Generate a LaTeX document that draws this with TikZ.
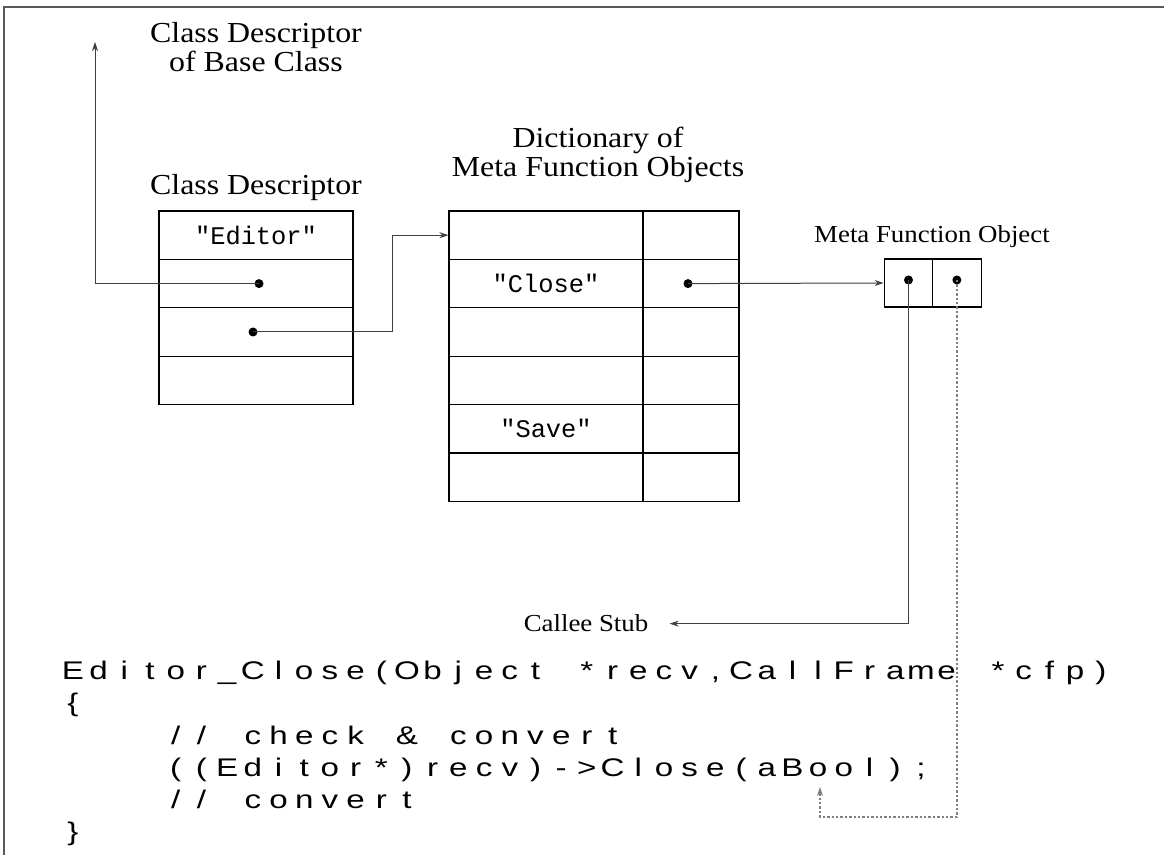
\documentclass[tikz,border=0pt]{standalone}
\usepackage{fontspec}
\setmainfont{Liberation Serif}
\newfontfamily\labelfont[FakeStretch=1.1]{Liberation Serif}
\newfontfamily\strfont{Liberation Mono}
\newfontfamily\codefont[FakeStretch=1.3]{Liberation Sans}
\usetikzlibrary{arrows.meta, positioning}

\newlength\codecell
\setlength\codecell{12.85pt}
\ExplSyntaxOn
\NewDocumentCommand\codeline{m}{\str_map_inline:nn {#1} {\makebox[\codecell]{##1}}}
\ExplSyntaxOff

\tikzstyle{bigtitle} = [font=\labelfont\fontsize{14.5pt}{14.8pt}\selectfont, align=center, inner sep=0pt]
\tikzstyle{smalltitle} = [font=\labelfont\fontsize{12.2pt}{14pt}\selectfont, inner sep=0pt]
\tikzstyle{slot} = [rectangle, draw=black, line width=0.6pt, minimum width=97pt, minimum height=24.2pt, inner sep=0pt, font=\strfont\fontsize{12.7pt}{14pt}\selectfont]
\tikzstyle{valslot} = [slot, minimum width=48pt]
\tikzstyle{ptrslot} = [slot, minimum width=24.25pt, minimum height=24pt]
\tikzstyle{ptrdot} = [circle, fill=black, inner sep=0pt, minimum size=4.5pt]
\tikzstyle{codeln} = [font=\codefont\fontsize{12.75pt}{15pt}\selectfont, anchor=base west, inner sep=0pt]
\tikzstyle{arrow} = [draw=black!75, line width=0.5pt, -{Stealth[length=4.5pt, width=3pt]}]
\tikzstyle{dotarrow} = [arrow, draw=black!50, line width=0.6pt, dash pattern=on 1.2pt off 1pt]

\begin{document}
\begin{tikzpicture}[x=0.5pt, y=-0.5pt, node distance=24.2pt]
\useasboundingbox (0,0) rectangle (1164,855);
\draw [draw=black!65, line width=0.75pt] (4,855) -- (4,7) -- (1164,7);

% class descriptor
\node (basetitle) [bigtitle, anchor=base] at (256,72) {Class Descriptor\\of Base Class};
\node (cdtitle) [bigtitle, anchor=base] at (256,195) {Class Descriptor};
\node (cd1) [slot] at (256,235.2) {"Editor"};
\node (cd2) [slot, below of=cd1] {};
\node (cd3) [slot, below of=cd2] {};
\node (cd4) [slot, below of=cd3] {};

% dictionary
\node (dicttitle) [bigtitle, anchor=base] at (598,177) {Dictionary of\\Meta Function Objects};
\node (key1) [slot] at (546,235.2) {};
\node (key2) [slot, below of=key1] {"Close"};
\node (key3) [slot, below of=key2] {};
\node (key4) [slot, below of=key3] {};
\node (key5) [slot, below of=key4] {"Save"};
\node (key6) [slot, below of=key5] {};
\node (val1) [valslot, node distance=72.5pt, right of=key1] {};
\node (val2) [valslot, node distance=72.5pt, right of=key2] {};
\node (val3) [valslot, node distance=72.5pt, right of=key3] {};
\node (val4) [valslot, node distance=72.5pt, right of=key4] {};
\node (val5) [valslot, node distance=72.5pt, right of=key5] {};
\node (val6) [valslot, node distance=72.5pt, right of=key6] {};

% meta function object
\node (mfotitle) [smalltitle, anchor=base] at (932,243) {Meta Function Object};
\node (mfo1) [ptrslot] at (908.5,283) {};
\node (mfo2) [ptrslot, right of=mfo1] {};

% pointers
\node (basep) [ptrdot] at ([xshift=1.5pt]cd2.center) {};
\node (dictp) [ptrdot] at ([xshift=-1.5pt]cd3.center) {};
\node (closep) [ptrdot] at ([xshift=-1.5pt]val2.center) {};
\node (stubp) [ptrdot] at ([yshift=1.5pt]mfo1.center) {};
\node (argp) [ptrdot] at ([yshift=1.5pt]mfo2.center) {};

\node (stub) [smalltitle, anchor=base] at (586,632) {Callee Stub};

% code
\node (sig) [codeln] at (59.7,680) {\codeline{Editor_Close(Object *recv,CallFrame *cfp)}};
\node (lbrace) [codeln] at (59.7,712) {\makebox[\codecell]{\{}};
\node (check) [codeln] at (162.5,745) {\codeline{// check & convert}};
\node (call) [codeln] at (162.5,777) {\codeline{((Editor*)recv)->Close(aBool);}};
\node (back) [codeln] at (162.5,809) {\codeline{// convert}};
\node (rbrace) [codeln] at (59.7,841) {\makebox[\codecell]{\}}};
\coordinate (basetip) at (95,42);
\coordinate (boolarg) at (820,787);

\draw [arrow] (basep.center) -| (basetip);
\draw [arrow] (dictp.center) -| ([xshift=-28pt]key1.west) -- (key1.west);
\draw [arrow] (closep.center) -- (mfo1.west);
\draw [arrow] (stubp.center) |- ([xshift=10.5pt]stub.east);
\draw [dotarrow] (argp.center) -- ++(0,537) -| (boolarg);

\end{tikzpicture}
\end{document}
